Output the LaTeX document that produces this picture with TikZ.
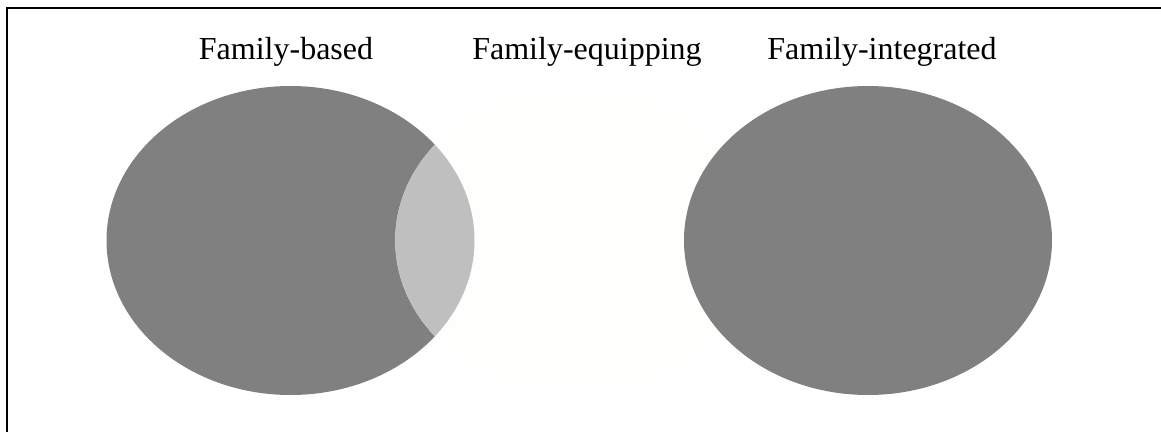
\documentclass[tikz,border=0pt]{standalone}
\usepackage{fontspec}
\setmainfont{Liberation Serif}
\definecolor{setgrey}{RGB}{128,128,128}
\definecolor{lensgrey}{RGB}{191,191,191}
\definecolor{faint}{RGB}{254,254,253}

\begin{document}
\begin{tikzpicture}[x=0.75pt,y=-0.75pt,
  title/.style={anchor=base,font=\fontsize{24}{28}\selectfont},
  blob/.style={x radius=184,y radius=154.5}]
  \useasboundingbox (0,0) rectangle (1161,432);
  \draw[line width=1.5pt] (6.5,432) |- (1161,7.5);

  \node[title] (based) at (286,60) {Family-based};
  \node[title] (equip) at (587,60) {Family-equipping};
  \node[title] (integ) at (882,60) {Family-integrated};

  % left set, middle set and their overlap
  \fill[setgrey] (290.5,240.5) ellipse [blob];
  \fill[faint] (579.25,240.5) ellipse [blob];
  \begin{scope}
    \clip (290.5,240.5) ellipse [blob];
    \fill[lensgrey] (579.25,240.5) ellipse [blob];
  \end{scope}
  \fill[setgrey] (868,240.5) ellipse [blob];
\end{tikzpicture}
\end{document}
